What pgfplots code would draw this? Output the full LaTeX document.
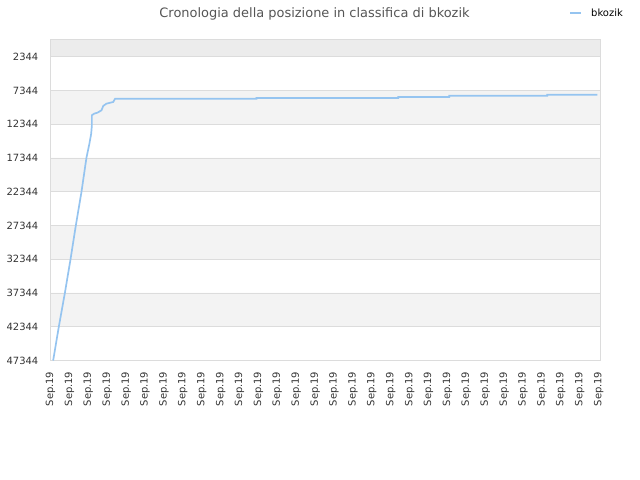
\documentclass[border=0pt]{standalone}
\usepackage{fontspec}
\setmainfont{DejaVu Sans}
\usepackage{pgfplots}
\pgfplotsset{compat=1.18}
\definecolor{rankline}{HTML}{95C4F0}
\definecolor{bandA}{HTML}{ECECEC}
\definecolor{bandB}{HTML}{F3F3F3}
\definecolor{gridc}{HTML}{DCDCDC}
\definecolor{ticktext}{HTML}{333333}
\definecolor{titletext}{HTML}{555555}

\begin{document}
\begin{tikzpicture}
\begin{axis}[
  set layers,
  at={(50.5bp,119.5bp)}, anchor=south west,
  scale only axis,
  width=550bp, height=320.5bp,
  xmin=0, xmax=29.1,
  ymin=-130, ymax=47344,
  y dir=reverse,
  scaled y ticks=false,
  xtick={0,...,29},
  xticklabel={Sep.19},
  ytick={2344,7344,12344,17344,22344,27344,32344,37344,42344,47344},
  yticklabels={2344,7344,12344,17344,22344,27344,32344,37344,42344,47344},
  major tick length=0pt,
  tick label style={font=\fontsize{10}{12}\selectfont, text=ticktext, inner sep=0pt},
  xticklabel style={rotate=90, anchor=east},
  yticklabel style={anchor=east},
  xticklabel shift=11bp,
  yticklabel shift=12bp,
  ymajorgrids=true,
  major grid style={draw=gridc, line width=0.8bp},
  axis line style={draw=gridc, line width=1bp},
  legend style={draw=none, fill=none, inner sep=0pt, outer sep=0pt,
    at={(axis description cs:1.0405,1.0842)}, anchor=east,
    font=\fontsize{10}{12}\selectfont,
    nodes={inner sep=0pt},
    /tikz/every odd column/.style={column sep=9bp}},
  legend image code/.code={\draw[#1] (0bp,0bp) -- (11bp,0bp);},
]
% background bands
\addplot[forget plot, draw=none, fill=bandA, on layer=axis background]
  coordinates {(0,-130) (29.1,-130) (29.1,2344) (0,2344) (0,-130)};
\addplot[forget plot, draw=none, fill=bandB, on layer=axis background]
  coordinates {(0,7344) (29.1,7344) (29.1,12344) (0,12344) (0,7344)};
\addplot[forget plot, draw=none, fill=bandB, on layer=axis background]
  coordinates {(0,17344) (29.1,17344) (29.1,22344) (0,22344) (0,17344)};
\addplot[forget plot, draw=none, fill=bandB, on layer=axis background]
  coordinates {(0,27344) (29.1,27344) (29.1,32344) (0,32344) (0,27344)};
\addplot[forget plot, draw=none, fill=bandB, on layer=axis background]
  coordinates {(0,37344) (29.1,37344) (29.1,42344) (0,42344) (0,37344)};
\addplot[rankline, line width=1.7bp, mark=none] coordinates {
  (0.14,47344) (0.44,42344) (0.76,37344) (1.06,32344) (1.34,27344)
  (1.64,22344) (1.90,17344) (2.06,15200) (2.15,13800) (2.19,12497)
  (2.19,11017) (2.31,10780) (2.49,10632) (2.70,10277) (2.79,9640)
  (2.96,9300) (3.32,9048) (3.42,8560) (10.90,8560) (10.90,8456)
  (18.40,8456) (18.40,8308) (21.10,8308) (21.10,8116) (26.28,8116)
  (26.28,7968) (28.93,7968)
};
\legend{bkozik}
\end{axis}
\node[font=\fontsize{13}{15}\selectfont, text=titletext] at (314.5bp,466.5bp)
  {Cronologia della posizione in classifica di bkozik};
\path (0,0) rectangle (640bp,480bp);
\end{tikzpicture}
\end{document}
